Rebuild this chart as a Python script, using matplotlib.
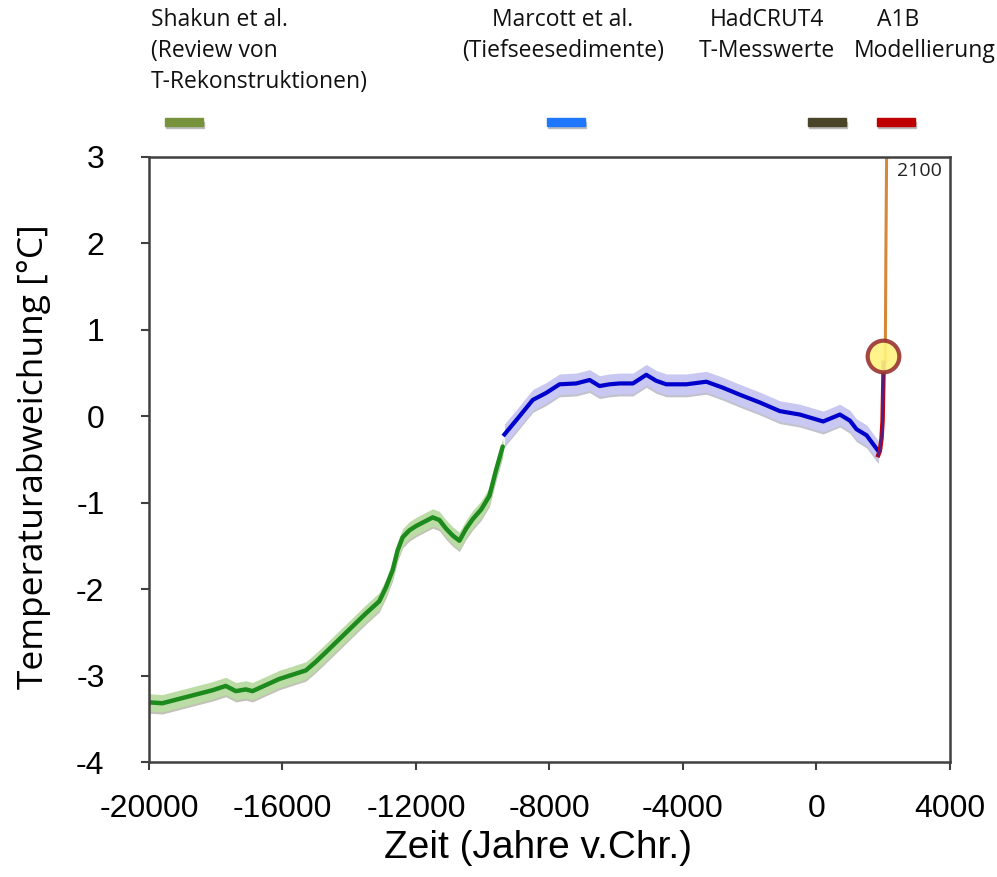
import numpy as np
import matplotlib
matplotlib.use("Agg")
import matplotlib.pyplot as plt
from matplotlib.patches import Rectangle

plt.rcParams["axes.unicode_minus"] = False

# Shakun et al. reconstruction (green)
shakun_year = [-20000, -19600, -19300, -18900, -18500, -18100, -17700, -17400, -17100,
               -16900, -16500, -16100, -15700, -15300, -15000, -14700, -14300, -13900,
               -13500, -13100, -12900, -12700, -12550, -12400, -12200, -12000, -11800,
               -11500, -11300, -11100, -10900, -10700, -10500, -10300, -10050, -9800,
               -9600, -9400]
shakun_temp = [-3.31, -3.32, -3.29, -3.25, -3.21, -3.17, -3.12, -3.18, -3.16,
               -3.18, -3.11, -3.04, -2.99, -2.94, -2.84, -2.73, -2.58, -2.43,
               -2.28, -2.14, -1.98, -1.78, -1.55, -1.40, -1.32, -1.27, -1.23,
               -1.17, -1.20, -1.30, -1.38, -1.44, -1.30, -1.19, -1.08, -0.92,
               -0.62, -0.35]
shakun_err = 0.1

# Marcott et al. (blue)
marcott_year = [-9350, -8900, -8500, -8100, -7700, -7200, -6800, -6500, -6200, -5900,
                -5500, -5100, -4800, -4500, -3900, -3300, -2800, -2300, -1700, -1100,
                -500, 200, 700, 1000, 1200, 1500, 1750, 1850]
marcott_temp = [-0.21, 0.0, 0.19, 0.27, 0.37, 0.38, 0.42, 0.35, 0.37, 0.38,
                0.38, 0.48, 0.41, 0.37, 0.37, 0.40, 0.33, 0.25, 0.16, 0.06,
                0.02, -0.06, 0.02, -0.05, -0.15, -0.22, -0.35, -0.40]
marcott_err = 0.12

# HadCRUT4 measurements
hadcrut_year = [1850, 1900, 1950, 1980, 2000, 2012]
hadcrut_temp = [-0.45, -0.40, -0.25, -0.05, 0.35, 0.62]

# A1B model scenario
a1b_year = [2060, 2080, 2100]
a1b_temp = [0.62, 1.95, 3.0]

marker_year, marker_temp = 2000, 0.7

legend_labels = [["Shakun et al.", "(Review von", "T-Rekonstruktionen)"],
                 ["Marcott et al.", "(Tiefseesedimente)"],
                 ["HadCRUT4", "T-Messwerte"],
                 ["A1B", "Modellierung"]]
legend_colors = ["#76933c", "#1f77ff", "#4a4529", "#c00000"]

W, H = 997, 877
fig = plt.figure(figsize=(W / 100, H / 100), dpi=100)
ax = fig.add_axes([149 / W, 1 - 762 / H, (950 - 149) / W, (762 - 157) / H])


def fx(px):
    return px / W


def fy(py):
    return 1 - py / H


sy = np.array(shakun_temp)
ax.fill_between(shakun_year, sy - shakun_err - 0.025, sy + shakun_err - 0.025, color="#9a9a8a", lw=0, alpha=0.6)
ax.fill_between(shakun_year, sy - shakun_err, sy + shakun_err, color="#bcdca6", lw=0)
ax.plot(shakun_year, shakun_temp, color="#1c8a1c", lw=3.2, solid_capstyle="round")

my = np.array(marcott_temp)
ax.fill_between(marcott_year, my - marcott_err - 0.025, my + marcott_err - 0.025, color="#9a9aaa", lw=0, alpha=0.6)
ax.fill_between(marcott_year, my - marcott_err, my + marcott_err, color="#c8c8f2", lw=0)
ax.plot(marcott_year, marcott_temp, color="#0000cc", lw=3)

ax.plot(a1b_year, a1b_temp, color="#d4883a", lw=2.2)
ax.plot(hadcrut_year, hadcrut_temp, color="#d00000", lw=3.2)
ax.plot(hadcrut_year, hadcrut_temp, color="#4b1f8c", lw=1.8)
ax.scatter([marker_year], [marker_temp], s=520, facecolor="#fff380", edgecolor="#993333",
           linewidth=3, alpha=0.9, zorder=5)
ax.text(2400, 2.94, "2100", fontsize=14, family="Open Sans", color="#222222", va="top")

ax.set_xlim(-20000, 4000)
ax.set_ylim(-4, 3)
ax.set_xticks(np.arange(-20000, 4001, 4000))
ax.set_yticks(np.arange(-4, 4, 1))
for s in ax.spines.values():
    s.set_color("#404040")
    s.set_linewidth(1.8)
ax.tick_params(direction="out", length=6, width=1.5, color="#404040",
               labelsize=23, pad=17)
ax.tick_params(axis="y", pad=26)
for lab in ax.get_xticklabels() + ax.get_yticklabels():
    lab.set_family("Liberation Sans")

fig.text(fx(538), fy(848), "Zeit (Jahre v.Chr.)", fontsize=28, family="Liberation Sans",
         ha="center", va="center")
fig.text(fx(34), fy(457), "Temperaturabweichung [°C]", fontsize=25.5, family="Open Sans",
         rotation=90, ha="center", va="center")

# legend texts above the chart
txt = dict(fontsize=16.5, family="Open Sans", va="center", color="#111111")
for i, line in enumerate(legend_labels[0]):
    fig.text(fx(151), fy(20 + 31 * i), line, ha="left", **txt)
for i, line in enumerate(legend_labels[1]):
    fig.text(fx(563), fy(20 + 31 * i), line, ha="center", **txt)
for i, line in enumerate(legend_labels[2]):
    fig.text(fx(767), fy(20 + 31 * i), line, ha="center", **txt)
fig.text(fx(898), fy(20), legend_labels[3][0], ha="center", **txt)
fig.text(fx(925), fy(51), legend_labels[3][1], ha="center", **txt)

bar_x = [165, 547, 808, 877]
for x0, c in zip(bar_x, legend_colors):
    fig.add_artist(Rectangle((fx(x0 + 1), fy(128)), 38 / W, 6 / H, color="#bbbbbb", transform=fig.transFigure))
    fig.add_artist(Rectangle((fx(x0), fy(126)), 38 / W, 8 / H, color=c, transform=fig.transFigure))

fig.savefig("out.png", dpi=100)
